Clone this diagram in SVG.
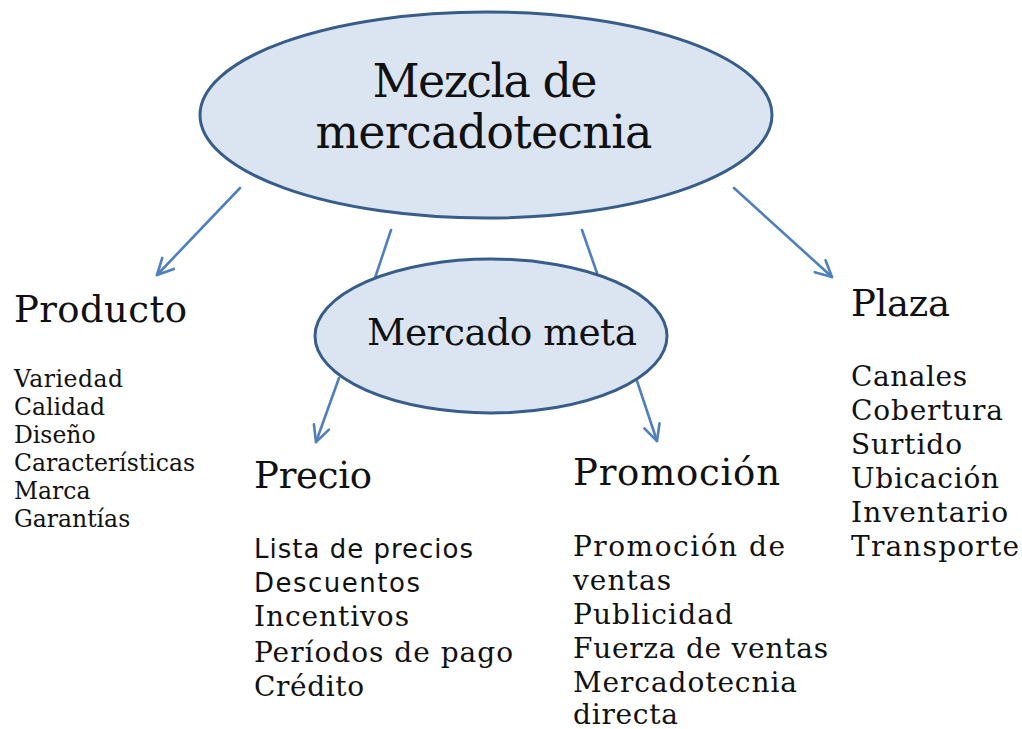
<svg xmlns="http://www.w3.org/2000/svg" width="1022" height="729" viewBox="0 0 1022 729">
<defs>
<style>
.ell{fill:#dbe5f1;stroke:#385d8a;stroke-width:3}
.con{stroke:#4f7fbc;stroke-width:2.6;fill:none;stroke-linecap:round}
.t{font-family:"DejaVu Serif","Liberation Serif",serif;fill:#111}
.s{font-family:"DejaVu Sans","Liberation Sans",sans-serif;fill:#111}
.h{font-size:37px}
.b{font-size:28px}
.sb{font-size:26px}
.p{font-size:23.5px}
</style>
<marker id="arr" viewBox="0 0 20 20" refX="18" refY="10" markerWidth="20" markerHeight="20" markerUnits="userSpaceOnUse" orient="auto">
<path d="M2,2 L18,10 L2,18" fill="none" stroke="#4f7fbc" stroke-width="2.6" stroke-linecap="round" stroke-linejoin="round"/>
</marker>
</defs>
<rect width="1022" height="729" fill="#fff"/>
<g id="connectors">
<line class="con" x1="240" y1="188" x2="157" y2="275" marker-end="url(#arr)"/>
<line class="con" x1="734" y1="188" x2="832" y2="277" marker-end="url(#arr)"/>
<line class="con" x1="391" y1="230" x2="375" y2="278"/>
<line class="con" x1="582" y1="230" x2="597" y2="273"/>
<line class="con" x1="339" y1="378" x2="316" y2="442" marker-end="url(#arr)"/>
<line class="con" x1="636" y1="378" x2="657" y2="441" marker-end="url(#arr)"/>
</g>
<g id="mezcla">
<ellipse class="ell" cx="486" cy="115" rx="286" ry="103"/>
<text class="t" x="485" y="97" font-size="46" text-anchor="middle" textLength="225">Mezcla de</text>
<text class="t" x="484" y="148" font-size="46" text-anchor="middle" textLength="337">mercadotecnia</text>
</g>
<g id="mercado-meta">
<ellipse class="ell" cx="491" cy="336" rx="176" ry="77"/>
<text class="t" x="502" y="345" font-size="37.5" text-anchor="middle" textLength="270">Mercado meta</text>
</g>
<g id="producto">
<text class="t h" x="14" y="322" textLength="173">Producto</text>
<text class="t p" x="14" y="387" textLength="109">Variedad</text>
<text class="t p" x="14" y="415">Calidad</text>
<text class="t p" x="14" y="443">Diseño</text>
<text class="t p" x="14" y="471" textLength="181">Características</text>
<text class="t p" x="14" y="499">Marca</text>
<text class="t p" x="14" y="527">Garantías</text>
</g>
<g id="precio">
<text class="t h" x="254" y="488" textLength="118">Precio</text>
<text class="s sb" x="254" y="558" textLength="219">Lista de precios</text>
<text class="s sb" x="254" y="592" textLength="166">Descuentos</text>
<text class="t b" x="254" y="626" textLength="155">Incentivos</text>
<text class="t b" x="254" y="662" textLength="259">Períodos de pago</text>
<text class="t b" x="254" y="696" textLength="110">Crédito</text>
</g>
<g id="promocion">
<text class="t h" x="573" y="485" textLength="207">Promoción</text>
<text class="t b" x="573" y="556" textLength="212">Promoción de</text>
<text class="t b" x="573" y="590" textLength="98">ventas</text>
<text class="t b" x="573" y="624" textLength="160">Publicidad</text>
<text class="t b" x="573" y="658" textLength="255">Fuerza de ventas</text>
<text class="t b" x="573" y="692" textLength="224">Mercadotecnia</text>
<text class="t b" x="573" y="724" textLength="105">directa</text>
</g>
<g id="plaza">
<text class="t h" x="851" y="316" textLength="99">Plaza</text>
<text class="t b" x="851" y="386" textLength="116">Canales</text>
<text class="t b" x="851" y="420" textLength="152">Cobertura</text>
<text class="t b" x="851" y="454" textLength="111">Surtido</text>
<text class="t b" x="851" y="488" textLength="148">Ubicación</text>
<text class="t b" x="851" y="522" textLength="157">Inventario</text>
<text class="t b" x="851" y="556" textLength="168">Transporte</text>
</g>
</svg>
